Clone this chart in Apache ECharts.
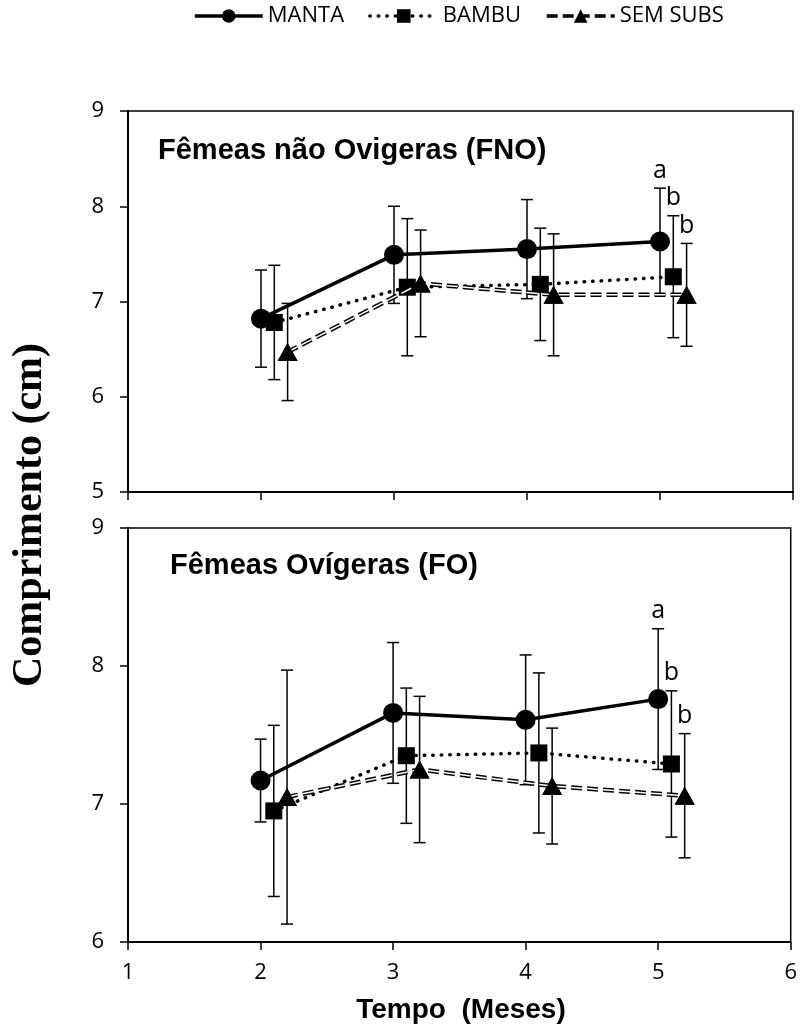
<!DOCTYPE html>
<html>
<head>
<meta charset="utf-8">
<script src="https://cdn.jsdelivr.net/npm/echarts@6/dist/echarts.min.js"></script>
<style>
  html, body { margin: 0; padding: 0; background: #fff; }
  #chart { width: 800px; height: 1032px; }
</style>
</head>
<body>
<div id="chart"></div>
<script>
// Sampling months and treatment names
const months = [2, 3, 4, 5];
const treatments = ['MANTA', 'BAMBU', 'SEM SUBS'];

// Axis ticks
const xTicks = [1, 2, 3, 4, 5, 6];
const yTicksFNO = [5, 6, 7, 8, 9];
const yTicksFO = [6, 7, 8, 9];

// Fêmeas não ovígeras (FNO): mean length (cm) and standard deviation
const fnoManta = [6.82, 7.49, 7.55, 7.63];
const fnoMantaSd = [0.51, 0.51, 0.52, 0.56];
const fnoBambu = [6.78, 7.15, 7.18, 7.26];
const fnoBambuSd = [0.60, 0.72, 0.59, 0.64];
const fnoSem = [6.47, 7.19, 7.07, 7.07];
const fnoSemSd = [0.51, 0.56, 0.64, 0.54];

// Fêmeas ovígeras (FO): mean length (cm) and standard deviation
const foManta = [7.17, 7.66, 7.61, 7.76];
const foMantaSd = [0.30, 0.51, 0.47, 0.51];
const foBambu = [6.95, 7.35, 7.37, 7.29];
const foBambuSd = [0.62, 0.49, 0.58, 0.53];
const foSem = [7.05, 7.25, 7.13, 7.06];
const foSemSd = [0.92, 0.53, 0.42, 0.45];

// Significance letters at the last month (MANTA, BAMBU, SEM SUBS)
const fnoLetters = ['a', 'b', 'b'];
const foLetters = ['a', 'b', 'b'];

// Horizontal shift of each treatment so the error bars do not overlap
const shift = [0, 0.1, 0.2];

const panelTitles = ['Fêmeas não Ovigeras (FNO)', 'Fêmeas Ovígeras (FO)'];
const yTitle = 'Comprimento (cm)';
const xTitle = 'Tempo  (Meses)';

const labelFont = 'Open Sans';
const symbols = ['circle', 'rect', 'triangle'];
const symbolSizes = [20, 17, [20, 18]];
const lineStyles = [
  { color: '#000', width: 3.5, type: 'solid' },
  { color: '#000', width: 3.5, type: [0.5, 8], cap: 'round' },
  { color: '#000', width: 4.5, type: [11, 5] }
];

const panels = [
  { means: [fnoManta, fnoBambu, fnoSem], sds: [fnoMantaSd, fnoBambuSd, fnoSemSd], letters: fnoLetters, ticks: yTicksFNO },
  { means: [foManta, foBambu, foSem], sds: [foMantaSd, foBambuSd, foSemSd], letters: foLetters, ticks: yTicksFO }
];

const grids = [
  { left: 128, right: 7, top: 111, bottom: 540 },
  { left: 128, right: 7, top: 528, bottom: 90 }
].map(g => Object.assign(g, { show: true, borderColor: '#000', borderWidth: 1.5, backgroundColor: 'transparent' }));

const xAxes = panels.map((p, i) => ({
  type: 'value', gridIndex: i,
  min: xTicks[0], max: xTicks[xTicks.length - 1], interval: xTicks[1] - xTicks[0],
  axisLine: { show: true, onZero: false, lineStyle: { color: '#000', width: 2 } },
  axisTick: { show: true, inside: false, length: 8, lineStyle: { color: '#000', width: 1.5 } },
  axisLabel: { show: i === 1, fontSize: 22, fontFamily: labelFont, color: '#000', margin: 20 },
  splitLine: { show: false }
}));

const yAxes = panels.map((p, i) => ({
  type: 'value', gridIndex: i,
  min: p.ticks[0], max: p.ticks[p.ticks.length - 1], interval: p.ticks[1] - p.ticks[0],
  axisLine: { show: true, onZero: false, lineStyle: { color: '#000', width: 2 } },
  axisTick: { show: true, inside: false, length: 8, lineStyle: { color: '#000', width: 1.5 } },
  axisLabel: { fontSize: 22, fontFamily: labelFont, color: '#000', margin: 24 },
  splitLine: { show: false }
}));

function errorBarRender(params, api) {
  const x = api.value(0);
  const lo = api.coord([x, api.value(1)]);
  const hi = api.coord([x, api.value(2)]);
  const cap = 6;
  const style = { stroke: '#000', lineWidth: 1.5 };
  return {
    type: 'group',
    children: [
      { type: 'line', shape: { x1: lo[0], y1: lo[1], x2: hi[0], y2: hi[1] }, style },
      { type: 'line', shape: { x1: lo[0] - cap, y1: lo[1], x2: lo[0] + cap, y2: lo[1] }, style },
      { type: 'line', shape: { x1: hi[0] - cap, y1: hi[1], x2: hi[0] + cap, y2: hi[1] }, style }
    ]
  };
}

const series = [];
panels.forEach((p, gi) => {
  treatments.forEach((name, ti) => {
    const pts = months.map((m, k) => [m + shift[ti], p.means[ti][k]]);
    // mean line with markers
    series.push({
      type: 'line', name: name, xAxisIndex: gi, yAxisIndex: gi, z: 3,
      data: pts, symbol: symbols[ti], symbolSize: symbolSizes[ti], showSymbol: true,
      lineStyle: lineStyles[ti], itemStyle: { color: '#000', borderWidth: 0 },
      emphasis: { disabled: true }, animation: false
    });
    if (ti === 2) {
      // hollow centre of the dashed line, markers redrawn on top of it
      series.push({
        type: 'line', name: name, xAxisIndex: gi, yAxisIndex: gi, z: 4,
        data: pts, symbol: symbols[ti], symbolSize: symbolSizes[ti],
        lineStyle: { color: '#fff', width: 1.5, type: [11, 5] },
        itemStyle: { color: '#000', borderWidth: 0 },
        emphasis: { disabled: true }, animation: false
      });
    }
    // error bars (mean ± sd)
    series.push({
      type: 'custom', xAxisIndex: gi, yAxisIndex: gi, z: 1,
      renderItem: errorBarRender, silent: true,
      data: months.map((m, k) => [m + shift[ti], p.means[ti][k] - p.sds[ti][k], p.means[ti][k] + p.sds[ti][k]])
    });
  });
  // significance letters above the last error bar of each treatment
  const last = months.length - 1;
  series.push({
    type: 'scatter', xAxisIndex: gi, yAxisIndex: gi, z: 5, symbolSize: 0, silent: true,
    itemStyle: { opacity: 1, color: '#000' },
    data: treatments.map((t, ti) => ({
      value: [months[last] + shift[ti], p.means[ti][last] + p.sds[ti][last]],
      name: p.letters[ti]
    })),
    label: { show: true, position: 'top', distance: 5, formatter: '{b}', fontSize: 25, fontFamily: labelFont, color: '#000' }
  });
});

const chart = echarts.init(document.getElementById('chart'), null, { renderer: 'canvas' });
chart.setOption({
  animation: false,
  backgroundColor: '#fff',
  legend: {
    data: treatments, left: 193, top: 5, padding: 0,
    itemWidth: 68, itemHeight: 17, itemGap: 24,
    lineStyle: { width: 3.5 },
    textStyle: { fontSize: 22, fontFamily: labelFont, color: '#000' },
    selectedMode: false
  },
  grid: grids,
  xAxis: xAxes,
  yAxis: yAxes,
  series: series,
  graphic: [
    { type: 'text', left: 158, top: 136, style: { text: panelTitles[0], font: 'bold 29px "Liberation Sans", Arial, sans-serif', fill: '#000' } },
    { type: 'text', left: 170, top: 551, style: { text: panelTitles[1], font: 'bold 29px "Liberation Sans", Arial, sans-serif', fill: '#000' } },
    { type: 'text', x: 30, y: 515, rotation: Math.PI / 2, style: { text: yTitle, font: 'bold 42px "Liberation Serif", "Times New Roman", serif', fill: '#000', align: 'center', verticalAlign: 'middle' } },
    { type: 'text', x: 461, y: 1010, style: { text: xTitle, font: 'bold 28px "Liberation Sans", Arial, sans-serif', fill: '#000', align: 'center', verticalAlign: 'middle' } }
  ]
});
</script>
</body>
</html>
